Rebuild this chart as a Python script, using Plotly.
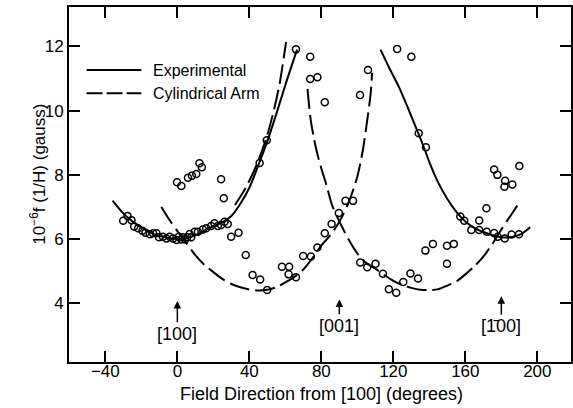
import plotly.graph_objects as go

# ---- observed frequencies (open circles) ----
obs_x = [-30.1, -27.7, -25.5, -24.0, -21.8, -19.4, -17.7, -15.3, -13.5, -11.6, -10.2, -8.0, -6.1,
         -4.3, -2.4, -0.5, 0.8, 2.2, 3.1, 4.3, 5.5, 6.8, 7.7, 9.6, 11.4, 14.2, 16.0, 18.8, 20.6,
         22.5, 24.3, 26.2, 28.0,
         -0.2, 2.2, 5.9, 8.1, 10.5, 12.3, 13.6, 24.3, 25.8,
         29.9, 34.0, 38.0, 41.8, 46.0, 49.9, 45.7, 49.7, 58.1, 62.1, 61.8, 65.9, 65.9,
         69.9, 74.2, 73.8, 73.8, 77.8, 77.8, 81.9, 81.9, 85.7, 89.7, 93.4, 97.6,
         101.5, 105.9, 101.6, 105.5, 110.1, 114.2, 117.5, 121.6, 125.5, 129.5, 133.7,
         122.1, 130.0, 134.1, 138.1, 137.8, 142.0, 149.8, 153.6, 149.8,
         157.2, 159.4, 163.3, 167.7, 167.7, 171.7, 171.9, 176.0, 178.0, 181.9, 185.7, 189.8,
         176.0, 177.8, 182.1, 181.7, 186.1, 190.0]
obs_y = [6.57, 6.72, 6.59, 6.39, 6.34, 6.26, 6.20, 6.15, 6.18, 6.18, 6.06, 6.07, 6.02,
         6.07, 6.02, 5.97, 6.07, 5.99, 6.06, 5.99, 6.06, 6.16, 6.06, 6.23, 6.23, 6.30, 6.34, 6.41, 6.49,
         6.41, 6.44, 6.54, 6.47,
         7.77, 7.65, 7.91, 7.97, 8.03, 8.36, 8.24, 7.86, 7.27,
         6.07, 6.20, 5.50, 4.88, 4.74, 4.41, 8.37, 9.08, 5.14, 5.14, 4.90, 4.81, 11.91,
         5.47, 5.46, 11.68, 10.99, 11.04, 5.74, 10.26, 6.18, 6.47, 6.81, 7.19, 7.19,
         10.49, 11.27, 5.27, 5.12, 5.23, 4.92, 4.44, 4.33, 4.66, 4.93, 4.77,
         11.92, 11.68, 9.30, 8.86, 5.64, 5.85, 5.79, 5.85, 5.23,
         6.70, 6.57, 6.28, 6.58, 6.28, 6.96, 6.23, 6.19, 6.07, 6.02, 6.14, 6.15,
         8.17, 8.00, 7.82, 7.63, 7.70, 8.28]

# ---- experimental curves (solid) ----
exp_a_x = [-36, -30, -25, -20, -15, -10, -5, 0, 5, 10, 15, 20, 25, 30, 35, 40, 45, 50, 55, 60, 66.5]
exp_a_y = [7.2, 6.8, 6.55, 6.36, 6.2, 6.1, 6.03, 6.0, 6.03, 6.12, 6.26, 6.4, 6.52, 6.72, 7.1, 7.6,
           8.3, 9.05, 9.9, 10.8, 11.9]
exp_b_x = [112.9, 118, 123, 128, 132, 136, 140, 145, 150, 155, 160, 165, 170, 175, 180, 185, 190, 193, 196]
exp_b_y = [11.9, 11.3, 10.75, 10.1, 9.55, 9.0, 8.4, 7.75, 7.25, 6.85, 6.55, 6.35, 6.22, 6.12, 6.06,
           6.06, 6.13, 6.23, 6.37]

# ---- cylindrical arm curves (dashed) ----
cyl_c_x = [32, 38, 44, 50, 54, 57, 60.4]
cyl_c_y = [7.06, 7.6, 8.3, 9.25, 10.1, 10.9, 12.14]
cyl_d_x = [-8.9, -5, 0, 5, 10, 15, 20, 25, 30, 35, 40, 45, 50, 55, 60, 65, 70, 75, 80, 85, 90, 95,
           100, 103, 105.5, 107.4, 108.2]
cyl_d_y = [7.0, 6.65, 6.25, 5.88, 5.5, 5.2, 4.97, 4.76, 4.6, 4.5, 4.43, 4.4, 4.42, 4.5, 4.65, 4.82,
           5.05, 5.4, 5.8, 6.12, 6.54, 7.12, 7.95, 8.75, 9.71, 10.54, 11.18]
cyl_e_x = [72.3, 74, 76, 78, 80, 83, 86, 90, 95, 100, 105, 110, 115, 120, 125, 130, 135, 140, 145,
           150, 155, 160, 165, 170, 175, 180, 185, 189.8]
cyl_e_y = [10.68, 9.75, 9.1, 8.6, 8.2, 7.65, 7.05, 6.55, 6.0, 5.55, 5.25, 5.08, 4.88, 4.7, 4.57,
           4.48, 4.42, 4.41, 4.44, 4.55, 4.68, 4.9, 5.15, 5.45, 5.85, 6.3, 6.72, 7.12]

# ---- axis ticks and direction markers ----
x_ticks = [-40, 0, 40, 80, 120, 160, 200]
y_ticks = [4, 6, 8, 10, 12]
dir_labels = ["[100]", "[001]", "[1\u030400]"]
dir_x = [0, 90, 180]
dir_tip_y = [4.07, 4.12, 4.22]
dir_label_y = [3.05, 3.3, 3.28]

FONT = "Liberation Sans"
DASH = "20px,6px"

fig = go.Figure()
for xs, ys in [(exp_a_x, exp_a_y), (exp_b_x, exp_b_y)]:
    fig.add_trace(go.Scatter(x=xs, y=ys, mode="lines", line=dict(color="black", width=2,
                             shape="spline", smoothing=0.8), showlegend=False, hoverinfo="skip"))
for xs, ys in [(cyl_c_x, cyl_c_y), (cyl_d_x, cyl_d_y), (cyl_e_x, cyl_e_y)]:
    fig.add_trace(go.Scatter(x=xs, y=ys, mode="lines", line=dict(color="black", width=2, dash=DASH,
                             shape="spline", smoothing=0.8), showlegend=False, hoverinfo="skip"))
fig.add_trace(go.Scatter(x=obs_x, y=obs_y, mode="markers",
                         marker=dict(symbol="circle-open", size=7, color="black",
                                     line=dict(width=1.5, color="black")),
                         showlegend=False))

# legend drawn by hand
leg_y = [0.8225, 0.7569]
leg_text = ["Experimental", "Cylindrical Arm"]
leg_dash = ["solid", "16px,4px"]
for yy, tt, dd in zip(leg_y, leg_text, leg_dash):
    fig.add_shape(type="line", xref="paper", yref="paper", x0=0.035, x1=0.144, y0=yy, y1=yy,
                  line=dict(color="black", width=2, dash=dd))
    fig.add_annotation(xref="paper", yref="paper", x=0.163, y=yy, text=tt, showarrow=False,
                       xanchor="left", yanchor="middle", font=dict(family=FONT, size=16, color="black"))

for lab, xx, ty, ly in zip(dir_labels, dir_x, dir_tip_y, dir_label_y):
    fig.add_annotation(x=xx, y=ty, ax=xx, ay=ly, axref="x", ayref="y", text=lab,
                       showarrow=True, arrowhead=2, arrowsize=1, arrowwidth=1.5, arrowcolor="black",
                       font=dict(family=FONT, size=18, color="black"))

# y-axis title
fig.add_annotation(xref="paper", yref="paper", x=-0.088, y=0.53, textangle=-90,
                   text="10<sup>\u22126</sup>f (1/H) (gauss)", showarrow=False,
                   font=dict(family=FONT, size=17, color="black"))
# x-axis title
fig.add_annotation(xref="paper", yref="paper", x=0.502, y=-0.09, yanchor="middle",
                   text="Field Direction from [100] (degrees)", showarrow=False,
                   font=dict(family=FONT, size=18, color="black"))

axis_common = dict(showgrid=False, zeroline=False, showline=True, linecolor="black", linewidth=2,
                   ticks="inside", tickwidth=2, ticklen=11, tickcolor="black", mirror="ticks",
                   tickfont=dict(family=FONT, size=17, color="black"))
fig.update_xaxes(range=[-60.2, 218.7], tickvals=x_ticks, ticklabelstandoff=-7, **axis_common)
fig.update_yaxes(range=[2.17, 13.23], tickvals=y_ticks, **axis_common)

fig.update_layout(width=573, height=408, margin=dict(l=69, r=0, t=7, b=46),
                  plot_bgcolor="white", paper_bgcolor="white", font=dict(family=FONT))
fig.write_html("out.html", config={"displayModeBar": False},
               post_script="document.body.style.margin='0';document.body.style.padding='0';"
                           "document.body.style.overflow='hidden';")
